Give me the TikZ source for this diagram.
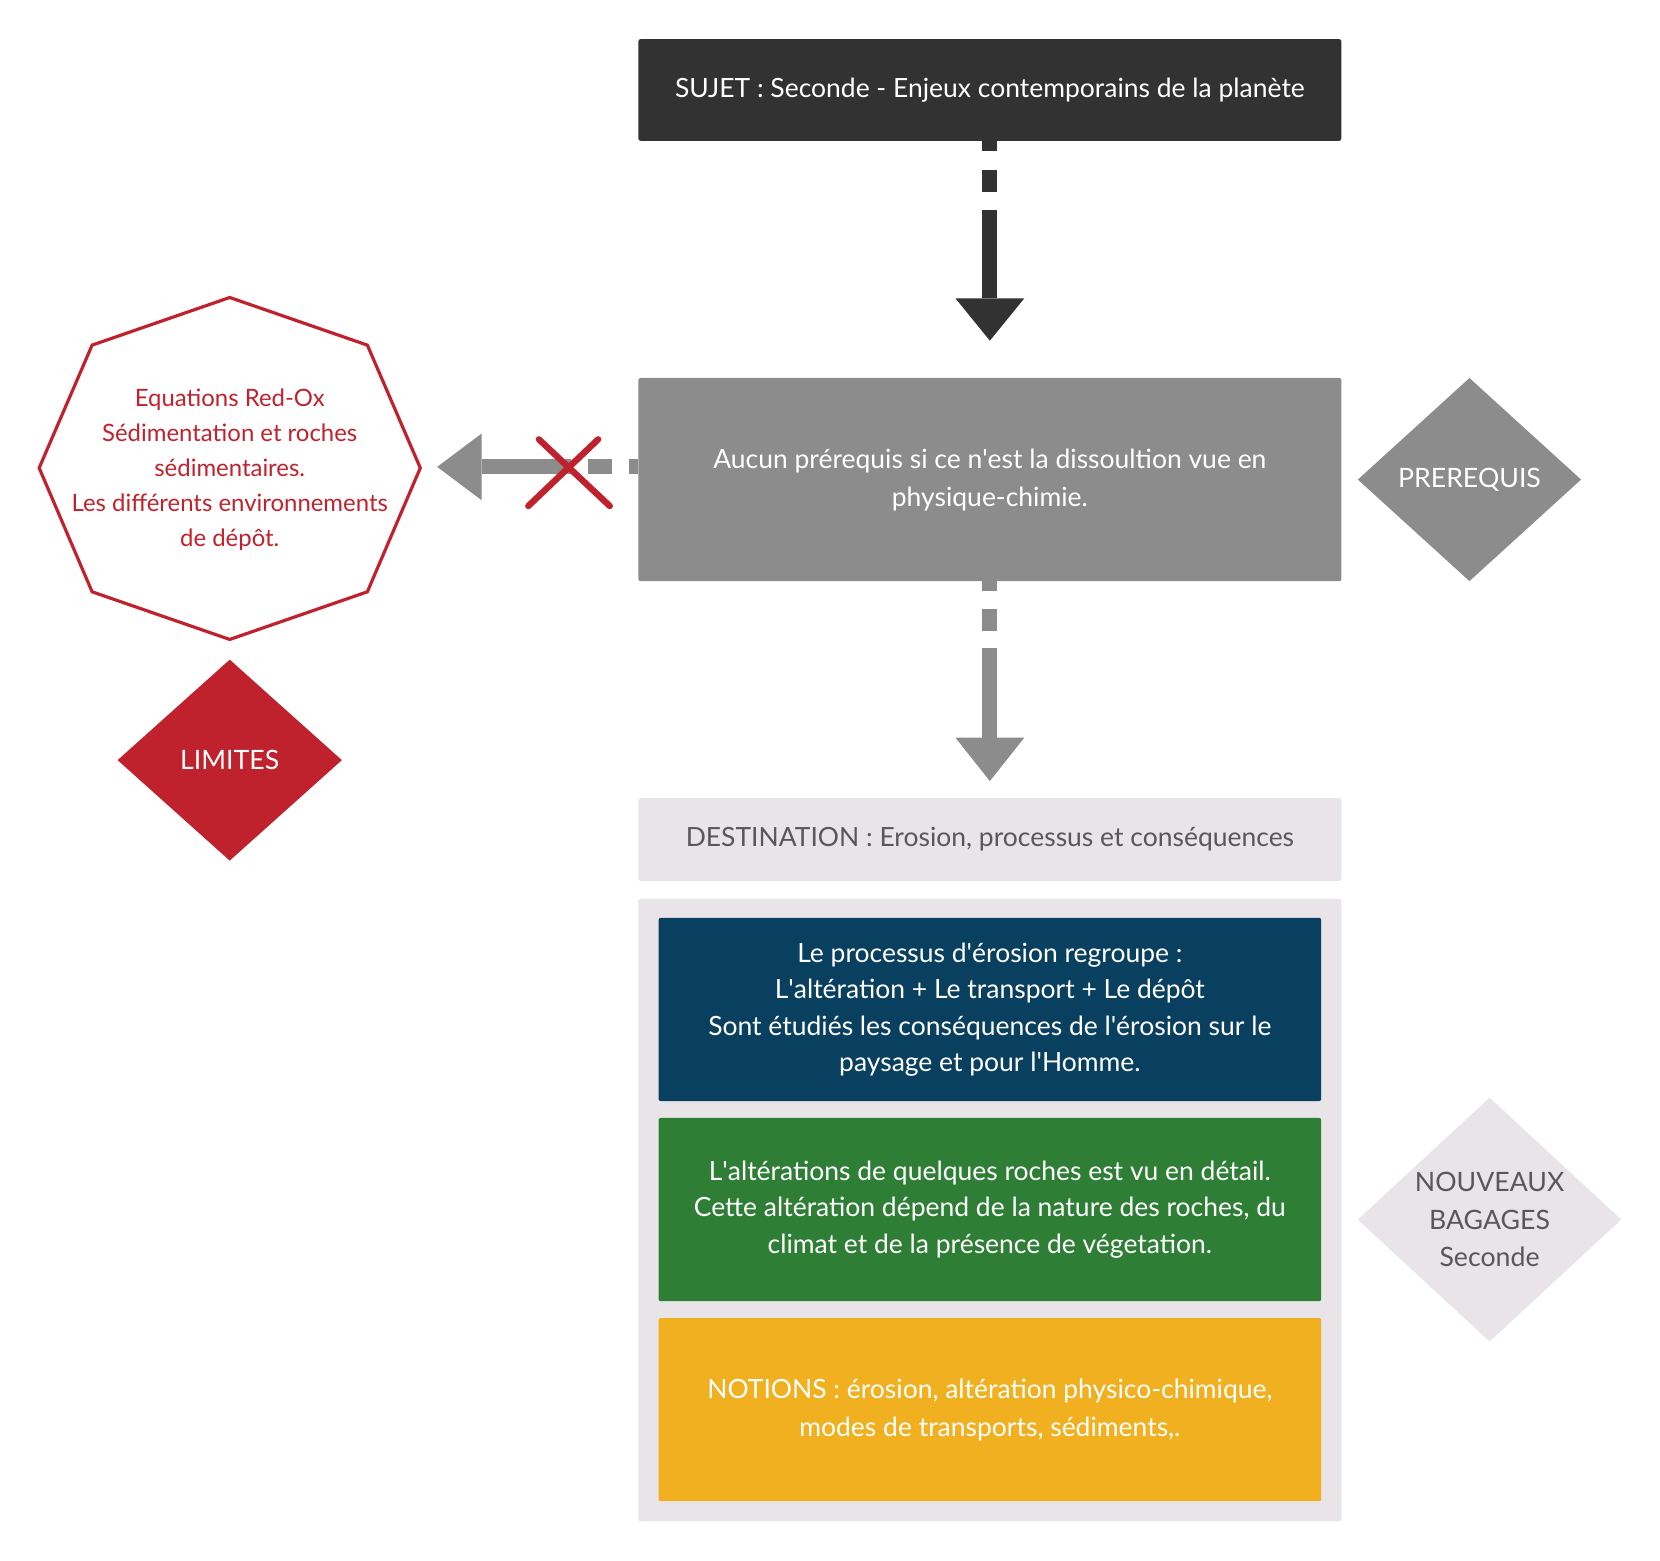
\documentclass[tikz,border=0pt]{standalone}
\usepackage{fontspec}
\setmainfont{Lato}
\usetikzlibrary{arrows.meta,shapes.geometric,calc}
\definecolor{cdark}{HTML}{323232}
\definecolor{cgray}{HTML}{8C8C8C}
\definecolor{cred}{HTML}{C0222D}
\definecolor{clight}{HTML}{E8E4E8}
\definecolor{ctext}{HTML}{585858}
\definecolor{cblue}{HTML}{0A405F}
\definecolor{cgreen}{HTML}{2F7E36}
\definecolor{cyellow}{HTML}{F0B020}
\newcommand{\ap}{\textquotesingle}
\tikzset{
  box/.style={rectangle, rounded corners=2pt, minimum width=664pt, inner sep=0pt, align=center, font=\fontsize{25}{34.5}\selectfont},
  inbox/.style={rectangle, rounded corners=2pt, minimum width=626pt, minimum height=173pt, inner sep=0pt, align=center, text=white, font=\fontsize{25}{34.5}\selectfont},
  dia/.style={diamond, inner sep=0pt, align=center, font=\fontsize{25.2}{35.5}\selectfont},
  conn/.style={line width=14pt},
}
\begin{document}
\begin{tikzpicture}[x=1pt,y=-1pt]
\useasboundingbox (0,0) rectangle (1568,1474);
% boxes
\node[box, fill=cdark, text=white, minimum height=96pt] (sujet) at (935,85) {SUJET : Seconde - Enjeux contemporains de la planète};
\node[box, fill=cgray, text=white, minimum height=192pt] (prq) at (935,453) {Aucun prérequis si ce n\ap est la dissoultion vue en\\[1.5pt]physique-chimie.};
\node[box, fill=clight, text=ctext, minimum height=78pt] (dest) at (935,793) {DESTINATION : Erosion, processus et conséquences};
\node[box, fill=clight, minimum height=588pt] (cont) at (935,1143) {};
\node[inbox, fill=cblue] (blue) at (935,953.5) {Le processus d\ap érosion regroupe :\\L\ap altération + Le transport + Le dépôt\\Sont étudiés les conséquences de l\ap érosion sur le\\paysage et pour l\ap Homme.};
\node[inbox, fill=cgreen] (green) at (935,1142.5) {L\ap altérations de quelques roches est vu en détail.\\Cette altération dépend de la nature des roches, du\\climat et de la présence de végetation.};
\node[inbox, fill=cyellow] (yellow) at (935,1331.5) {NOTIONS : érosion, altération physico-chimique,\\[1.5pt]modes de transports, sédiments,.};
% diamonds
\node[dia, fill=cgray, text=white, minimum width=211pt, minimum height=192pt] (prdia) at (1388,453) {PREREQUIS};
\node[dia, fill=cred, text=white, minimum width=212pt, minimum height=190pt] (lim) at (217,718) {LIMITES};
\node[dia, fill=clight, text=ctext, minimum width=249pt, minimum height=230pt] (nouv) at (1407,1152) {NOUVEAUX\\BAGAGES\\Seconde};
% octagon
\node[align=center, text=cred, inner sep=0pt, font=\fontsize{22.6}{33}\selectfont] (oct) at (217,444) {Equations Red-Ox\\Sédimentation et roches\\sédimentaires.\\Les différents environnements\\de dépôt.};
\draw[cred, line width=3pt, line join=miter] (217,281) -- (347,326) -- (397,442) -- (347,559) -- (217,604) -- (87,559) -- (37,442) -- (87,326) -- cycle;
% connectors
\draw[conn, cdark, dash pattern=on 9pt off 18pt on 21pt off 17pt on 400pt, shorten >=35pt, -{Triangle[length=40pt,width=65pt,line width=0pt]}] (sujet.south) -- (prq.north);
\draw[conn, cgray, dash pattern=on 9pt off 17pt on 21pt off 16pt on 400pt, shorten >=16pt, -{Triangle[length=41pt,width=65pt,line width=0pt]}] (prq.south) -- (dest.north);
\coordinate (ltip) at (413,441);
\draw[conn, cgray, dash pattern=on 9pt off 16pt on 22pt off 16pt on 400pt, -{Triangle[length=42pt,width=63pt,line width=0pt]}] ([yshift=12pt]prq.west) -- (ltip);
% red cross
\coordinate (xc) at (537,446);
\draw[cred, line width=6pt, line cap=round] ($(xc)+(-38,32)$) -- ($(xc)+(28,-31)$);
\draw[cred, line width=6pt, line cap=round] ($(xc)+(-28,-31)$) -- ($(xc)+(39,32)$);
\end{tikzpicture}
\end{document}
